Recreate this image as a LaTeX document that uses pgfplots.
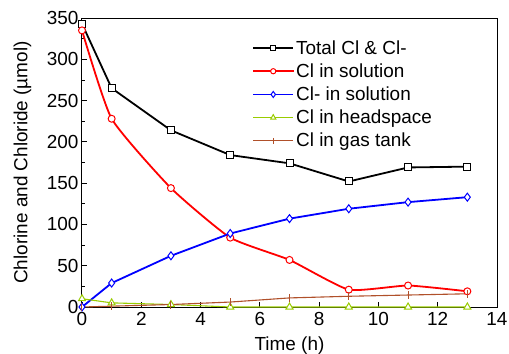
\documentclass[border=0pt]{standalone}
\usepackage{pgfplots}
\pgfplotsset{compat=1.18}
\usepackage{fontspec}
\setmainfont{Liberation Sans}
\definecolor{lgreen}{RGB}{153,204,0}
\definecolor{lbrown}{RGB}{176,80,42}
\begin{document}
\begin{tikzpicture}
\begin{axis}[
  at={(0,0)}, anchor=south west,
  scale only axis,
  width=415bp, height=289bp,
  xmin=0, xmax=14, ymin=0, ymax=350,
  xtick={0,2,...,14}, ytick={0,50,...,350},
  minor x tick num=1, minor y tick num=1,
  tick align=inside, xtick pos=bottom, ytick pos=left,
  major tick length=5bp, minor tick length=3bp,
  axis line style={line width=1bp},
  every tick/.style={black, line width=0.8bp},
  /pgf/number format/assume math mode=true,
  tick label style={font=\fontsize{19}{22}\selectfont},
  xticklabel style={yshift=-2bp},
  label style={font=\fontsize{19}{22}\selectfont},
  xlabel={Time (h)}, ylabel={Chlorine and Chloride (µmol)},
  xlabel style={at={(axis description cs:0.5,-0.135)}, anchor=center},
  ylabel style={at={(axis description cs:-0.1434,0.5)}, anchor=center, rotate=0},
  clip=false,
  legend style={at={(0.41,0.93)}, anchor=north west, draw=none, fill=none,
    font=\fontsize{19}{22}\selectfont, row sep=4bp, inner sep=0pt},
  legend cell align=left,
  legend image code/.code={\draw[mark repeat=2,mark phase=2, every mark/.append style={scale=0.75}] plot coordinates {(0bp,0bp) (20bp,0bp) (40bp,0bp)};},
]
\addplot[black, line width=1.8bp, mark=square*, mark size=3.5bp, mark options={fill=white, line width=1bp}]
 coordinates {(0,343) (1,265) (3,214) (5,184) (7,174) (9,152) (11,169) (13,170)};
\addlegendentry{Total Cl \& Cl-}
\addplot[red, line width=1.8bp, smooth, tension=0.3, mark=*, mark size=3.5bp, mark options={fill=white, line width=1bp}]
 coordinates {(0,335) (1,228) (3,144) (5,84) (7,57) (9,21) (11,26) (13,19)};
\addlegendentry{Cl in solution}
\addplot[blue, line width=1.8bp, mark=diamond*, mark size=4bp, mark options={fill=white, line width=1bp}]
 coordinates {(0,0) (1,29) (3,62) (5,89) (7,107) (9,119) (11,127) (13,133)};
\addlegendentry{Cl- in solution}
\addplot[lgreen, line width=1.1bp, mark=triangle*, mark size=4bp, mark options={fill=white, line width=1bp}]
 coordinates {(0,10) (1,5) (3,3) (5,0) (7,0) (9,0) (11,0) (13,0)};
\addlegendentry{Cl in headspace}
\addplot[lbrown, line width=1.1bp, mark=|, mark size=4bp, mark options={line width=1bp}]
 coordinates {(0,0) (1,1) (3,3) (5,6) (7,11) (9,13) (11,14.5) (13,16)};
\addlegendentry{Cl in gas tank}
\end{axis}
\pgfresetboundingbox
\path[use as bounding box] (-82bp,-47bp) rectangle (427bp,307bp);
\end{tikzpicture}
\end{document}
